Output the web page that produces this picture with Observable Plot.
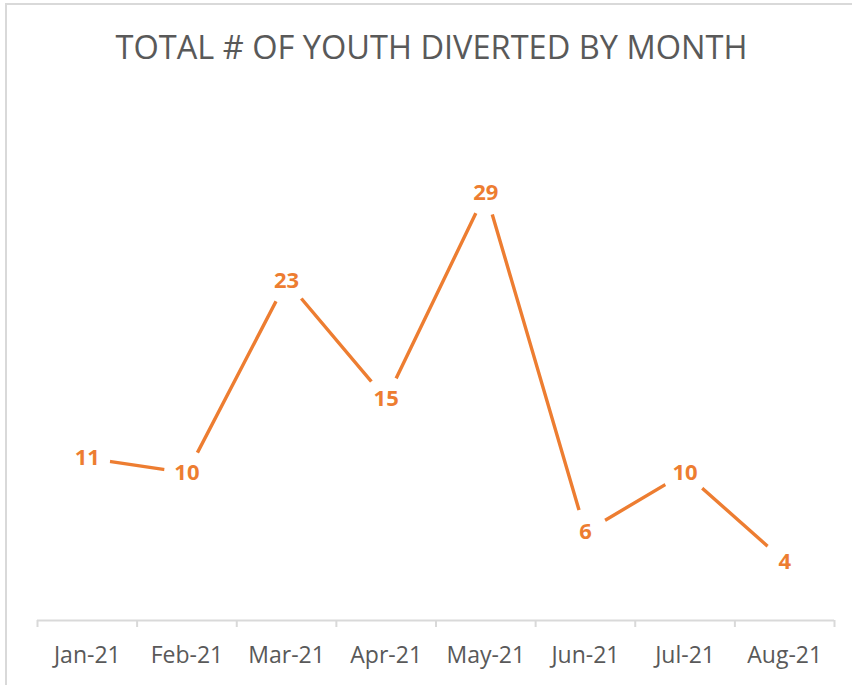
<!DOCTYPE html>
<html>
<head>
<meta charset="utf-8">
<script src="https://cdn.jsdelivr.net/npm/d3@7"></script>
<script src="https://cdn.jsdelivr.net/npm/@observablehq/plot@0.6"></script>
<style>
  html, body { margin: 0; padding: 0; background: white; }
  #wrap { position: relative; width: 852px; height: 685px; overflow: hidden; background: white; }
  #frame { position: absolute; left: 5px; top: 3px; width: 1000px; height: 1000px;
           border-left: 2px solid #d9d9d9; border-top: 2px solid #d9d9d9; pointer-events: none; z-index: 2; }
  #chart { position: absolute; left: 0; top: 0; }
</style>
</head>
<body>
<div id="wrap"><div id="chart"></div><div id="frame"></div></div>
<script>
const title = "TOTAL # OF YOUTH DIVERTED BY MONTH";
const months = ["Jan-21", "Feb-21", "Mar-21", "Apr-21", "May-21", "Jun-21", "Jul-21", "Aug-21"];
const values = [11, 10, 23, 15, 29, 6, 10, 4];

const data = months.map((m, i) => ({i, month: m, value: values[i]}));
const boundaries = d3.range(months.length + 1).map(k => k - 0.5);
const orange = "#ED7D31";

const plot = Plot.plot({
  width: 852,
  height: 685,
  marginLeft: 37,
  marginRight: 18,
  marginTop: 103.4,
  marginBottom: 65,
  x: {type: "linear", domain: [-0.5, months.length - 0.5], axis: null, label: null},
  y: {domain: [0, 35], axis: null, label: null},
  marks: [
    Plot.ruleY([0], {stroke: "#d9d9d9", strokeWidth: 2}),
    Plot.axisX(boundaries, {tickSize: 7, tickFormat: () => "", label: null, stroke: "#d9d9d9", strokeWidth: 2}),
    Plot.axisX(d3.range(months.length), {
      tickSize: 0, tickPadding: 26, tickFormat: i => months[i], label: null,
      fontSize: 23, color: "#595959", fontFamily: "Open Sans"
    }),
    Plot.line(data, {x: "i", y: "value", stroke: orange, strokeWidth: 3.4}),
    Plot.dot(data, {x: "i", y: "value", r: 23, fill: "white", stroke: "none"}),
    Plot.text(data, {
      x: "i", y: "value", text: d => String(d.value),
      fill: orange, fontWeight: "bold", fontSize: 22, fontFamily: "Open Sans"
    })
  ]
});

d3.select(plot).append("text")
  .attr("x", 115.5)
  .attr("y", 58.5)
  .attr("text-anchor", "start")
  .attr("fill", "#595959")
  .attr("font-family", "Open Sans")
  .attr("font-weight", 400)
  .attr("font-size", 33)
  .attr("textLength", 632)
  .attr("lengthAdjust", "spacingAndGlyphs")
  .text(title);

document.getElementById("chart").appendChild(plot);
</script>
</body>
</html>
